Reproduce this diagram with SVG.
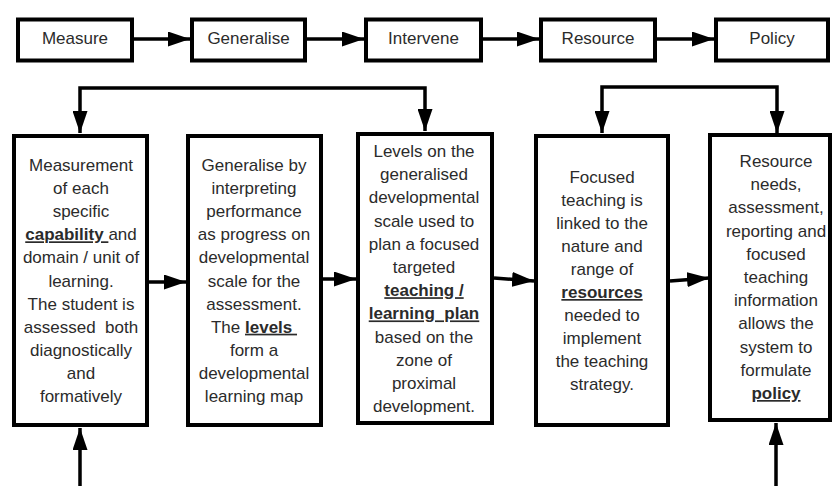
<svg xmlns="http://www.w3.org/2000/svg" width="832" height="486" viewBox="0 0 832 486">
<style>
.box{fill:#fff;stroke:#000;stroke-width:4}
.t{font-family:"Liberation Sans",Arial,sans-serif;font-size:17px;fill:#2b2b2b;text-anchor:middle}
.b{font-weight:bold;text-decoration:underline}
.c{fill:none;stroke:#000;stroke-width:3.5}
</style>
<defs>
<marker id="ah" viewBox="0 0 22 15" refX="22" refY="7.5" markerWidth="22" markerHeight="15" markerUnits="userSpaceOnUse" orient="auto-start-reverse">
<path d="M0,0 L22,7.5 L0,15 z" fill="#000"/>
</marker>
</defs>
<rect width="832" height="486" fill="#fff"/>
<g id="connectors">
<line class="c" x1="134" y1="39" x2="190" y2="39" marker-end="url(#ah)"/>
<line class="c" x1="307" y1="39" x2="364" y2="39" marker-end="url(#ah)"/>
<line class="c" x1="483" y1="39" x2="539" y2="39" marker-end="url(#ah)"/>
<line class="c" x1="657" y1="39" x2="714" y2="39" marker-end="url(#ah)"/>
<path class="c" d="M80,133 L80,88 L425,88 L425,131" marker-start="url(#ah)" marker-end="url(#ah)"/>
<path class="c" d="M602,133 L602,87 L777,87 L777,133" marker-start="url(#ah)" marker-end="url(#ah)"/>
<line class="c" x1="149" y1="282" x2="186" y2="282" marker-end="url(#ah)"/>
<line class="c" x1="323" y1="279" x2="356" y2="279" marker-end="url(#ah)"/>
<line class="c" x1="494" y1="278" x2="534" y2="281" marker-end="url(#ah)"/>
<line class="c" x1="670" y1="281" x2="709" y2="278" marker-end="url(#ah)"/>
<path class="c" d="M80,428 L80,489 L776,489 L776,423" marker-start="url(#ah)" marker-end="url(#ah)"/>
</g>
<g id="measure"><rect class="box" x="18" y="19.5" width="114" height="41"/><text class="t" x="75" y="44">Measure</text></g>
<g id="generalise"><rect class="box" x="192" y="19.5" width="113" height="41"/><text class="t" x="248.5" y="44">Generalise</text></g>
<g id="intervene"><rect class="box" x="366" y="19.5" width="115" height="41"/><text class="t" x="423.5" y="44">Intervene</text></g>
<g id="resource"><rect class="box" x="541" y="19.5" width="114" height="41"/><text class="t" x="598" y="44">Resource</text></g>
<g id="policy"><rect class="box" x="716" y="19.5" width="112" height="41"/><text class="t" x="772" y="44">Policy</text></g>
<g id="measure-detail"><rect class="box" x="14" y="136" width="133" height="289"/>
<text class="t" y="171"><tspan x="81">Measurement</tspan><tspan x="81" dy="23.1">of each</tspan><tspan x="81" dy="23.1">specific</tspan><tspan x="81" dy="23.1"><tspan class="b">capability </tspan>and</tspan><tspan x="81" dy="23.1">domain / unit of</tspan><tspan x="81" dy="23.1">learning.</tspan><tspan x="81" dy="23.1">The student is</tspan><tspan x="81" dy="23.1" xml:space="preserve">assessed  both</tspan><tspan x="81" dy="23.1">diagnostically</tspan><tspan x="81" dy="23.1">and</tspan><tspan x="81" dy="23.1">formatively</tspan></text></g>
<g id="generalise-detail"><rect class="box" x="188" y="136" width="133" height="289"/>
<text class="t" y="171"><tspan x="254">Generalise by</tspan><tspan x="254" dy="23.1">interpreting</tspan><tspan x="254" dy="23.1">performance</tspan><tspan x="254" dy="23.1">as progress on</tspan><tspan x="254" dy="23.1">developmental</tspan><tspan x="254" dy="23.1">scale for the</tspan><tspan x="254" dy="23.1">assessment.</tspan><tspan x="254" dy="23.1">The <tspan class="b">levels </tspan></tspan><tspan x="254" dy="23.1">form a</tspan><tspan x="254" dy="23.1">developmental</tspan><tspan x="254" dy="23.1">learning map</tspan></text></g>
<g id="intervene-detail"><rect class="box" x="358" y="134" width="134" height="289"/>
<text class="t" y="157"><tspan x="424">Levels on the</tspan><tspan x="424" dy="23.2">generalised</tspan><tspan x="424" dy="23.2">developmental</tspan><tspan x="424" dy="23.2">scale used to</tspan><tspan x="424" dy="23.2">plan a focused</tspan><tspan x="424" dy="23.2">targeted</tspan><tspan x="424" dy="23.2" class="b">teaching /</tspan><tspan x="424" dy="23.2" class="b" xml:space="preserve">learning  plan</tspan><tspan x="424" dy="23.2">based on the</tspan><tspan x="424" dy="23.2">zone of</tspan><tspan x="424" dy="23.2">proximal</tspan><tspan x="424" dy="23.2">development.</tspan></text></g>
<g id="resource-detail"><rect class="box" x="536" y="136" width="132" height="289"/>
<text class="t" y="183"><tspan x="602">Focused</tspan><tspan x="602" dy="23">teaching is</tspan><tspan x="602" dy="23">linked to the</tspan><tspan x="602" dy="23">nature and</tspan><tspan x="602" dy="23">range of</tspan><tspan x="602" dy="23" class="b">resources</tspan><tspan x="602" dy="23">needed to</tspan><tspan x="602" dy="23">implement</tspan><tspan x="602" dy="23">the teaching</tspan><tspan x="602" dy="23">strategy.</tspan></text></g>
<g id="policy-detail"><rect class="box" x="710" y="135" width="120" height="285"/>
<text class="t" y="167"><tspan x="776">Resource</tspan><tspan x="776" dy="23.2">needs,</tspan><tspan x="776" dy="23.2">assessment,</tspan><tspan x="776" dy="23.2">reporting and</tspan><tspan x="776" dy="23.2">focused</tspan><tspan x="776" dy="23.2">teaching</tspan><tspan x="776" dy="23.2">information</tspan><tspan x="776" dy="23.2">allows the</tspan><tspan x="776" dy="23.2">system to</tspan><tspan x="776" dy="23.2">formulate</tspan><tspan x="776" dy="23.2" class="b">policy</tspan></text></g>
</svg>
